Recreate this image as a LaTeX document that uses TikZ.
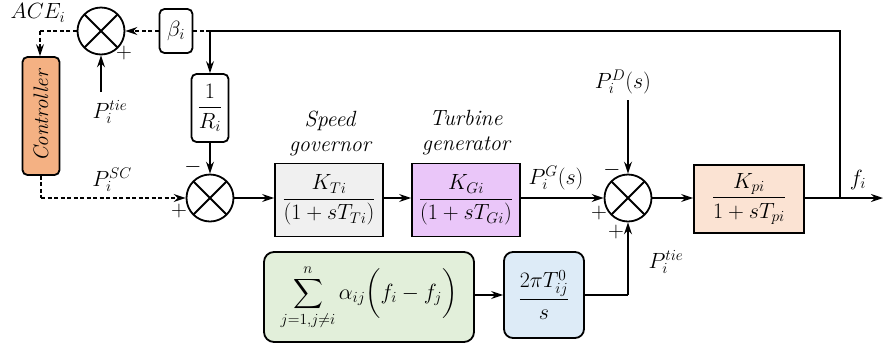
\RequirePackage{fix-cm}
\documentclass[tikz,border=0pt]{standalone}
\usepackage{amsmath}
\usetikzlibrary{arrows.meta,calc}
\definecolor{ctrlc}{HTML}{F4B183}
\definecolor{govc}{HTML}{F0F0F0}
\definecolor{tgc}{HTML}{EAC6F9}
\definecolor{kpc}{HTML}{FBE3D3}
\definecolor{grc}{HTML}{E2EFDA}
\definecolor{blc}{HTML}{DDEBF7}
\begin{document}
\begin{tikzpicture}[x=1pt,y=-1pt,
  font=\fontsize{22}{25}\selectfont,
  line width=1.8pt,
  >={Stealth[length=12pt,width=8pt,inset=4pt]},
  sumj/.style={circle,draw,minimum size=47pt,inner sep=0pt,
    path picture={\draw[line width=1.8pt] (path picture bounding box.north west)--(path picture bounding box.south east)
      (path picture bounding box.north east)--(path picture bounding box.south west);}},
  blk/.style={draw,rectangle,inner sep=2pt},
  rblk/.style={draw,rectangle,rounded corners=5pt,inner sep=2pt},
  dsh/.style={dash pattern=on 4pt off 2.5pt},
  lbl/.style={inner sep=1pt},
  sgn/.style={inner sep=0pt,font=\fontsize{22}{22}\selectfont}]
\useasboundingbox (0,0) rectangle (883,349);

% sum junctions
\node[sumj] (s1) at (101,31) {};
\node[sumj] (s2) at (210,198) {};
\node[sumj] (s3) at (628,198) {};

% blocks
\node[rblk,fill=ctrlc,minimum width=37pt,minimum height=118pt] (ctrl) at (41,116) {};
\node[rotate=90,inner sep=0pt,font=\itshape\fontsize{21}{23}\selectfont] (ctrltxt) at (ctrl.center) {Controller};
\node[rblk,minimum width=33pt,minimum height=44pt] (beta) at (176,31) {$\beta_i$};
\node[rblk,minimum width=37pt,minimum height=68pt] (R) at (210,108) {$\dfrac{1}{R_i}$};
\node[blk,fill=govc,minimum width=108pt,minimum height=73pt] (gov) at (329,200) {$\dfrac{K_{Ti}}{(1+sT_{Ti})}$};
\node[blk,fill=tgc,minimum width=108pt,minimum height=73pt] (tg) at (466,200) {$\dfrac{K_{Gi}}{(1+sT_{Gi})}$};
\node[blk,fill=kpc,minimum width=110pt,minimum height=68pt] (kp) at (749,199) {$\dfrac{K_{pi}}{1+sT_{pi}}$};
\node[rblk,rounded corners=10pt,fill=grc,minimum width=210pt,minimum height=90pt,inner sep=0pt] (green) at (369,297)
  {$\displaystyle\sum_{j=1,j\neq i}^{n}\alpha_{ij}\biggl(f_i-f_j\biggr)$};
\node[rblk,rounded corners=9pt,fill=blc,minimum width=80pt,minimum height=86pt] (blue) at (544,295)
  {$\dfrac{2\pi T_{ij}^{0}}{s}$};

% labels
\node[lbl] (ace) at (38,13) {$ACE_i$};
\node[lbl] (ptie1) at (110,112) {$P_i^{tie}$};
\node[lbl] (psc) at (112,180) {$P_i^{SC}$};
\node[lbl,align=center,font=\itshape\fontsize{22}{25}\selectfont] (govl) at (330,133) {Speed\\governor};
\node[lbl,align=center,font=\itshape\fontsize{22}{25}\selectfont] (tgl) at (466,133) {Turbine\\generator};
\node[lbl] (pg) at (556,178) {$P_i^G(s)$};
\node[lbl] (pd) at (623,82) {$P_i^D(s)$};
\node[lbl] (ptie2) at (666,262) {$P_i^{tie}$};
\node[lbl] (fi) at (858,180) {$f_i$};

% signs
\node[sgn] (p1) at (124,53) {$+$};
\node[sgn] (m2) at (193,167) {$-$};
\node[sgn] (p2) at (179,211) {$+$};
\node[sgn] (m3) at (612,170) {$-$};
\node[sgn] (p3a) at (599,213) {$+$};
\node[sgn] (p3b) at (616,232) {$+$};

% coordinates
\coordinate (fb) at (840,198);
\coordinate (out) at (883,198);
\coordinate (fbtop) at (840,31);
\coordinate (br) at (210,31);
\coordinate (acec) at (40,31);
\coordinate (scc) at (41,198);
\coordinate (ptie1s) at (101,92);
\coordinate (pds) at (628,100);
\coordinate (bc) at (628,295);

% connectors
\draw[->] (s2) -- (gov.west |- s2);
\draw[->] (gov.east |- s2) -- (tg.west |- s2);
\draw[->] (tg.east |- s3) -- (s3);
\draw[->] (s3) -- (kp.west |- s3);
\draw[->] (kp.east |- fb) -- (out);
\draw (fb) -- (fbtop) -- (br);
\draw[dsh] (br) -- (beta);
\draw[dsh,->] (beta) -- (s1);
\draw[->] (br) -- (R);
\draw[->] (R) -- (s2);
\draw[dsh] (s1) -- (acec);
\draw[dsh,->] (acec) -- (acec |- ctrl.north);
\draw[dsh] (scc |- ctrl.south) -- (scc);
\draw[dsh,->] (scc) -- (s2);
\draw[->] (ptie1s) -- (s1);
\draw[->] (pds) -- (s3);
\draw[->] (green.east |- blue) -- (blue);
\draw (blue.east |- bc) -- (bc);
\draw[->] (bc) -- (s3);
\end{tikzpicture}
\end{document}
